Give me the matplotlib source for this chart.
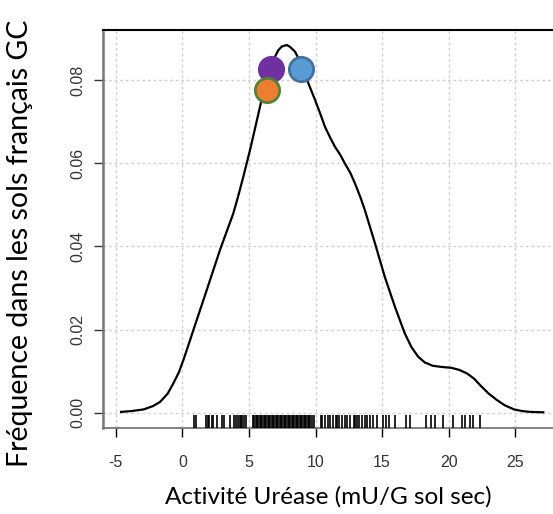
import matplotlib
matplotlib.use("Agg")
import matplotlib.pyplot as plt

plt.rcParams["axes.unicode_minus"] = False

# density curve
curve_x = [-4.6, -3.8, -2.9, -2.2, -1.67, -1.1, -0.67, -0.25, 0.08, 0.45, 0.83, 1.83,
           2.83, 3.83, 4.2, 4.58, 5.08, 5.5, 5.95, 6.5, 6.96, 7.2, 7.46, 7.84, 8.1,
           8.46, 9.0, 9.46, 9.96, 10.35, 10.71, 11.1, 11.46, 11.85, 12.2, 12.6,
           12.96, 13.35, 13.7, 14.46, 15.2, 15.96, 16.7, 17.2, 17.7, 18.2, 18.8,
           19.5, 20.2, 20.8, 21.4, 21.9, 22.4, 23.0, 23.6, 24.2, 24.9, 25.5, 26.1,
           27.1]
curve_y = [0.0002, 0.0004, 0.0008, 0.0016, 0.0026, 0.0046, 0.0071, 0.0098, 0.0127,
           0.0162, 0.0199, 0.0295, 0.0392, 0.048, 0.0522, 0.0568, 0.0632, 0.069,
           0.0753, 0.081, 0.0857, 0.0872, 0.0881, 0.0885, 0.0880, 0.0869, 0.0835,
           0.0793, 0.0753, 0.072, 0.0688, 0.0662, 0.064, 0.0621, 0.060, 0.0578,
           0.0552, 0.052, 0.0488, 0.0408, 0.0327, 0.0255, 0.0191, 0.0158, 0.0135,
           0.0121, 0.0113, 0.0110, 0.0108, 0.0103, 0.0094, 0.0082, 0.0065, 0.0046,
           0.0031, 0.0018, 0.0008, 0.0004, 0.0002, 0.0001]

# rug (individual observations)
rug_x = [0.9, 1.0, 1.8, 1.9, 2.0, 2.2, 2.3, 2.6, 3.0, 3.1, 3.6, 3.9, 4.0, 4.2, 4.3,
         4.4, 4.5, 4.6, 4.8, 5.3, 5.4, 5.5, 5.6, 5.7, 5.8, 5.9, 6.0, 6.1, 6.2, 6.3,
         6.4, 6.5, 6.6, 6.7, 6.8, 6.9, 7.0, 7.1, 7.2, 7.3, 7.4, 7.5, 7.6, 7.7, 7.8,
         7.9, 8.0, 8.1, 8.2, 8.3, 8.4, 8.5, 8.6, 8.7, 8.8, 8.9, 9.0, 9.1, 9.2, 9.3,
         9.4, 9.5, 9.6, 9.7, 9.9, 10.4, 10.5, 10.7, 10.9, 11.1, 11.3, 11.5, 11.6,
         11.8, 12.0, 12.2, 12.4, 12.6, 12.9, 13.0, 13.1, 13.3, 13.5, 13.7, 13.9,
         14.1, 14.3, 14.6, 15.1, 15.3, 15.5, 16.0, 16.8, 17.1, 18.3, 18.7, 19.0,
         19.6, 20.35, 21.0, 21.2, 21.6, 21.85, 22.35]

# highlighted samples
pts_x = [6.68, 6.34, 8.89]
pts_y = [0.0826, 0.0777, 0.0826]
pts_face = ["#7030A0", "#ED7D31", "#5B9BD5"]
pts_edge = ["#7030A0", "#548235", "#41719C"]

x_ticks = [-5, 0, 5, 10, 15, 20, 25]
y_ticks = [0.00, 0.02, 0.04, 0.06, 0.08]
y_ticklabels = ["0.00", "0.02", "0.04", "0.06", "0.08"]

xlabel = "Activité Uréase (mU/G sol sec)"
ylabel = "Fréquence dans les sols français GC"

fig = plt.figure(figsize=(5.53, 5.14), dpi=100)
ax = fig.add_axes([0.1857, 0.1673, 0.8143, 0.7738])
ax.set_xlim(-5.98, 27.83)
ax.set_ylim(-0.00368, 0.09203)

ax.set_xticks(x_ticks)
ax.set_yticks(y_ticks)
ax.set_yticklabels(y_ticklabels, rotation=90, va="center")
ax.grid(True, color="#d0d0d0", linestyle=(0, (2, 2)), linewidth=1.0)
ax.set_axisbelow(True)

ax.plot(curve_x, curve_y, color="black", linewidth=1.6, zorder=3,
        solid_joinstyle="round")
ax.vlines(rug_x, 0, 0.033, transform=ax.get_xaxis_transform(), color="black",
          linewidth=1.2, zorder=3)

for x, y, fc, ec in zip(pts_x, pts_y, pts_face, pts_edge):
    ax.plot([x], [y], marker="o", markersize=17.5, markerfacecolor=fc,
            markeredgecolor=ec, markeredgewidth=2.0, linestyle="none", zorder=4)

ax.spines["right"].set_visible(False)
ax.spines["top"].set_color("black")
ax.spines["top"].set_linewidth(1.5)
ax.spines["left"].set_color("#777777")
ax.spines["left"].set_linewidth(1.8)
ax.spines["bottom"].set_color("#777777")
ax.spines["bottom"].set_linewidth(1.3)

ax.tick_params(axis="x", direction="out", length=6.5, width=1.0, color="black",
               pad=13, labelsize=11.5, labelcolor="#333333")
ax.tick_params(axis="y", direction="out", length=6.5, width=1.0, color="#333333",
               pad=6, labelsize=11.5, labelcolor="#333333")
for lab in ax.get_xticklabels() + ax.get_yticklabels():
    lab.set_fontfamily("Liberation Sans")

fig.text(0.593, 0.033, xlabel, ha="center", va="center", fontsize=17.5,
         family="Lato", color="black")
fig.text(0.037, 0.526, ylabel, ha="center", va="center", rotation=90,
         fontsize=20.5, family="Lato", color="black")

fig.savefig("out.png", dpi=100)
